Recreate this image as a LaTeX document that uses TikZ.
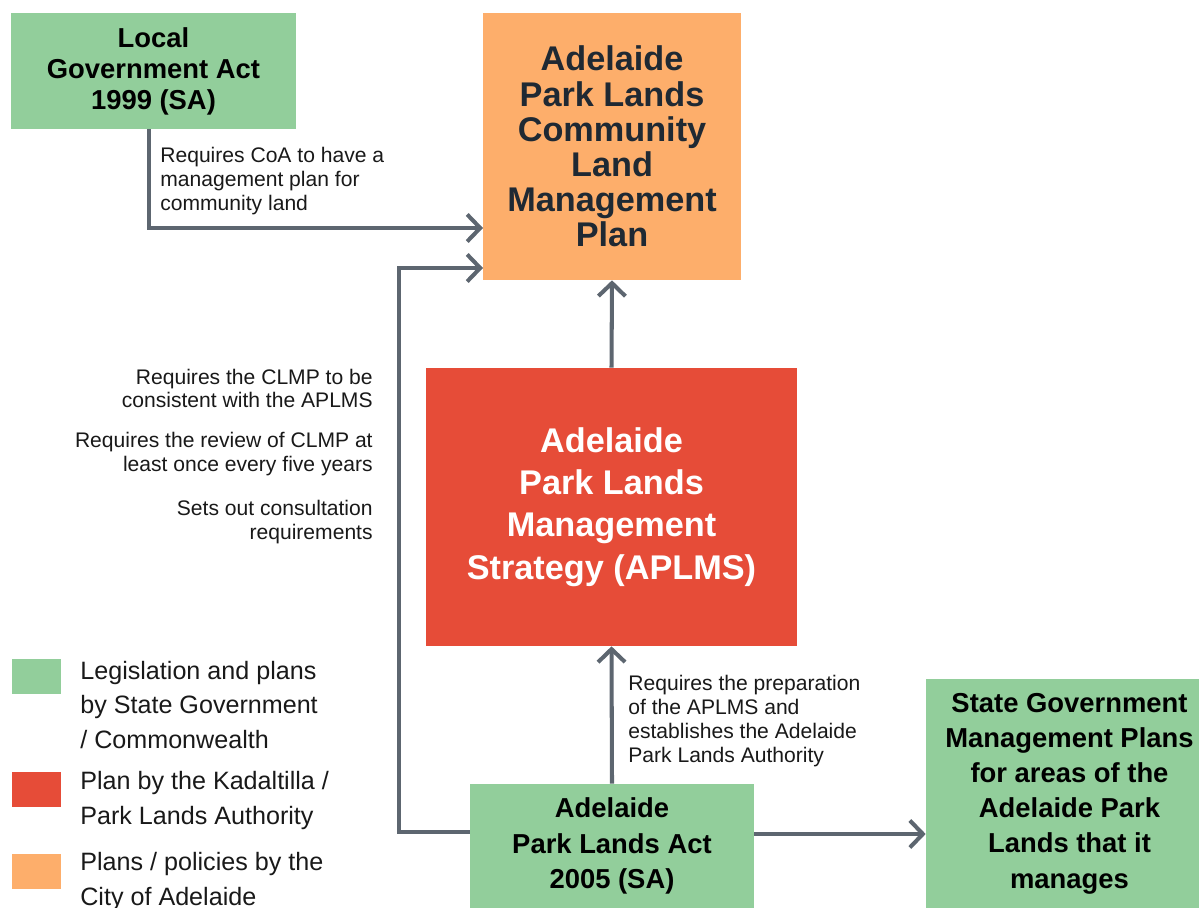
\documentclass[tikz,border=0pt]{standalone}
\usepackage{fontspec}
\setmainfont{Liberation Sans}
\usetikzlibrary{arrows.meta}
\definecolor{govgreen}{RGB}{146,206,155}
\definecolor{cityorange}{RGB}{253,174,107}
\definecolor{authred}{RGB}{230,76,56}
\definecolor{linkgrey}{RGB}{93,102,112}
\definecolor{inkdark}{RGB}{31,41,51}
\tikzset{
    box/.style={rectangle,inner sep=0pt,align=center,font=\bfseries},
    note/.style={inner sep=0pt,font=\fontsize{12}{13.6}\selectfont,text=black!90},
    link/.style={-{Straight Barb[length=2.6mm,width=5.4mm]},line width=2.3pt,draw=linkgrey},
    keybox/.style={rectangle,inner sep=0pt,minimum width=0.98cm,minimum height=0.7cm}
}

\begin{document}
\begin{tikzpicture}[
    x=0.02cm,y=-0.02cm,
    bigtext/.style={font=\bfseries\fontsize{19.5}{20}\selectfont},
    midtext/.style={font=\bfseries\fontsize{15.6}{17.6}\selectfont},
    keytext/.style={note,font=\fontsize{14.3}{19.8}\selectfont,anchor=west,align=left}
]
\useasboundingbox (0,0) rectangle (1199,908);

% Cac hop chinh
\node[box,midtext,fill=govgreen,minimum width=5.70cm,minimum height=2.32cm] (LGA) at (153.5,71)
    {Local\\Government Act\\1999 (SA)};
\node[box,bigtext,fill=cityorange,text=inkdark,minimum width=5.16cm,minimum height=5.34cm] (CLMP) at (612,146.5)
    {Adelaide\\Park Lands\\Community\\Land\\Management\\Plan};
\node[box,font=\bfseries\fontsize{19.5}{24}\selectfont,fill=authred,text=white,minimum width=7.42cm,minimum height=5.56cm] (APLMS) at (611.5,507)
    {Adelaide\\Park Lands\\Management\\Strategy (APLMS)};
\node[box,font=\bfseries\fontsize{15.6}{20}\selectfont,fill=govgreen,minimum width=5.68cm,minimum height=2.48cm] (ACT) at (612,846)
    {Adelaide\\Park Lands Act\\2005 (SA)};
\node[box,font=\bfseries\fontsize{15.6}{20}\selectfont,fill=govgreen,minimum width=5.74cm,minimum height=4.58cm] (SGMP) at (1069.5,793.5)
    {State Government\\Management Plans\\for areas of the\\Adelaide Park\\Lands that it\\manages};

% Diem gap
\coordinate (in1) at (483,228);
\coordinate (in2) at (483,268);
\coordinate (bend) at (399,832);

% Cac mui ten
\draw[link] ([xshift=-0.09cm]LGA.south) |- (in1);
\draw[link] (ACT.west |- bend) -- (bend) |- (in2);
\draw[link] (APLMS.north) -- (CLMP.south);
\draw[link] (ACT.north) -- (APLMS.south);
\draw[link] ([yshift=0.24cm]ACT.east) -- ([yshift=0.24cm]ACT.east -| SGMP.west);

% Chu thich tren mui ten
\node[note,anchor=west,align=left] (n1) at (160,181)
    {Requires CoA to have a\\management plan for\\community land};
\node[note,anchor=east,align=right] (n2) at (373,388.5)
    {Requires the CLMP to be\\consistent with the APLMS};
\node[note,anchor=east,align=right] (n3) at (373,454)
    {Requires the review of CLMP at\\least once every five years};
\node[note,anchor=east,align=right] (n4) at (373,522)
    {Sets out consultation\\requirements};
\node[note,anchor=west,align=left] (n5) at (628,721)
    {Requires the preparation\\of the APLMS and\\establishes the Adelaide\\Park Lands Authority};

% Bang chu giai
\node[keybox,fill=govgreen] (K1) at (36.5,676.5) {};
\node[keybox,fill=authred] (K2) at (36.5,789) {};
\node[keybox,fill=cityorange] (K3) at (36.5,871.5) {};
\node[keytext] (L1) at (80,705)
    {Legislation and plans\\by State Government\\/ Commonwealth};
\node[keytext] (L2) at (80,800.5)
    {Plan by the Kadaltilla /\\Park Lands Authority};
\node[keytext] (L3) at (80,881.5)
    {Plans / policies by the\\City of Adelaide};
\end{tikzpicture}
\end{document}
